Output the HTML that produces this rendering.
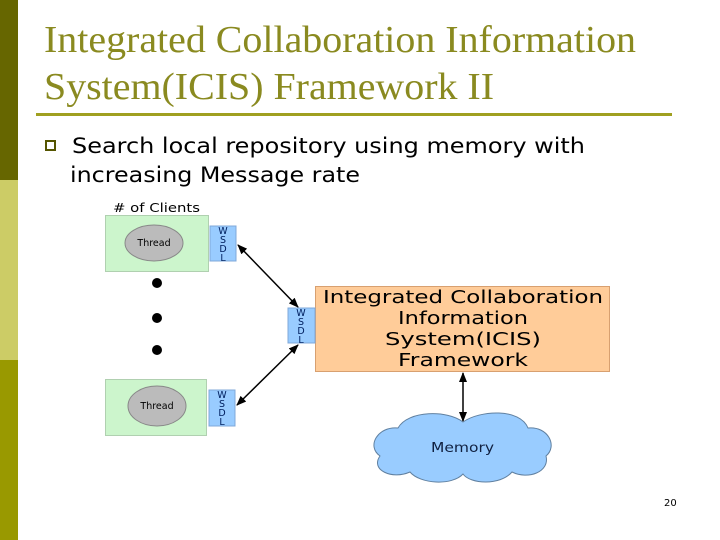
<!DOCTYPE html>
<html><head><style>
body{margin:0;width:720px;height:540px;background:#fff;overflow:hidden;position:relative;font-family:"DejaVu Sans",sans-serif}
</style></head><body>
<svg width="720" height="540" style="position:absolute;left:0;top:0" font-family="DejaVu Sans, sans-serif">
<defs><marker id="a" markerWidth="10" markerHeight="8" refX="9" refY="4" orient="auto-start-reverse" markerUnits="userSpaceOnUse"><path d="M0,0 L10,4 L0,8z" fill="#000"/></marker></defs>
<rect x="0" y="0" width="18" height="180" fill="#666600"/>
<rect x="0" y="180" width="18" height="180" fill="#cccc66"/>
<rect x="0" y="360" width="18" height="180" fill="#999900"/>
<text x="44" y="52" font-family="Liberation Serif" font-size="38" fill="#8a8a20" textLength="592" lengthAdjust="spacingAndGlyphs">Integrated Collaboration Information</text>
<text x="44" y="99" font-family="Liberation Serif" font-size="38" fill="#8a8a20" textLength="450" lengthAdjust="spacingAndGlyphs">System(ICIS) Framework II</text>
<rect x="36" y="113" width="636" height="3" fill="#a0a020"/>
<rect x="46" y="141" width="9" height="9" fill="none" stroke="#555500" stroke-width="2"/>
<text x="72" y="153" font-size="21" fill="#000" textLength="513" lengthAdjust="spacingAndGlyphs">Search local repository using memory with</text>
<text x="70" y="182" font-size="21" fill="#000" textLength="290" lengthAdjust="spacingAndGlyphs">increasing Message rate</text>
<text x="113" y="212" font-size="12.5" textLength="87" lengthAdjust="spacingAndGlyphs"># of Clients</text>
<rect x="105.5" y="215.5" width="103" height="56" fill="#ccf5cc" stroke="#b0d0b0"/>
<ellipse cx="154" cy="243" rx="29" ry="18" fill="#bbb" stroke="#888"/>
<text x="154" y="246" font-size="9.5" text-anchor="middle">Thread</text>
<rect x="210" y="226" width="26" height="35" fill="#99ccff" stroke="#80a8d8"/>
<text font-size="9.5" fill="#002060" text-anchor="middle"><tspan x="223" y="234">W</tspan><tspan x="223" y="243">S</tspan><tspan x="223" y="252">D</tspan><tspan x="223" y="261">L</tspan></text>
<circle cx="157" cy="283" r="5"/><circle cx="157" cy="318" r="5"/><circle cx="157" cy="350" r="5"/>
<rect x="105.5" y="379.5" width="101" height="56" fill="#ccf5cc" stroke="#b0d0b0"/>
<ellipse cx="157" cy="406" rx="29" ry="20" fill="#bbb" stroke="#888"/>
<text x="157" y="409" font-size="9.5" text-anchor="middle">Thread</text>
<rect x="209" y="390" width="26" height="36" fill="#99ccff" stroke="#80a8d8"/>
<text font-size="9.5" fill="#002060" text-anchor="middle"><tspan x="222" y="398">W</tspan><tspan x="222" y="407">S</tspan><tspan x="222" y="416">D</tspan><tspan x="222" y="425">L</tspan></text>
<rect x="315.5" y="286.5" width="294" height="85" fill="#ffcc99" stroke="#d8a070"/>
<rect x="288" y="308" width="27" height="35" fill="#99ccff" stroke="#80a8d8"/>
<text font-size="9.5" fill="#002060" text-anchor="middle"><tspan x="301" y="316">W</tspan><tspan x="301" y="325">S</tspan><tspan x="301" y="334">D</tspan><tspan x="301" y="343">L</tspan></text>
<g font-size="18" fill="#000">
<text x="323" y="303" textLength="280" lengthAdjust="spacingAndGlyphs">Integrated Collaboration</text>
<text x="398" y="324" textLength="130" lengthAdjust="spacingAndGlyphs">Information</text>
<text x="385" y="345" textLength="156" lengthAdjust="spacingAndGlyphs">System(ICIS)</text>
<text x="398" y="366" textLength="130" lengthAdjust="spacingAndGlyphs">Framework</text>
</g>
<line x1="238" y1="245" x2="298" y2="307" stroke="#000" stroke-width="1.5" marker-start="url(#a)" marker-end="url(#a)"/>
<line x1="237" y1="405" x2="298" y2="345" stroke="#000" stroke-width="1.5" marker-start="url(#a)" marker-end="url(#a)"/>
<line x1="463" y1="373" x2="463" y2="421" stroke="#000" stroke-width="1.5" marker-start="url(#a)" marker-end="url(#a)"/>
<path d="M463,422 C480,410 520,408 528,428 C548,426 558,446 546,456 C550,472 528,480 512,472 C500,486 470,484 463,474 C452,486 420,484 410,472 C392,480 370,470 380,456 C366,446 378,426 398,428 C408,410 448,410 463,422 Z" fill="#99ccff" stroke="#6080a0"/>
<text x="431" y="452" font-size="13.5" fill="#102040" textLength="63" lengthAdjust="spacingAndGlyphs">Memory</text>
<text x="664" y="506" font-size="10">20</text>
</svg>
</body></html>
